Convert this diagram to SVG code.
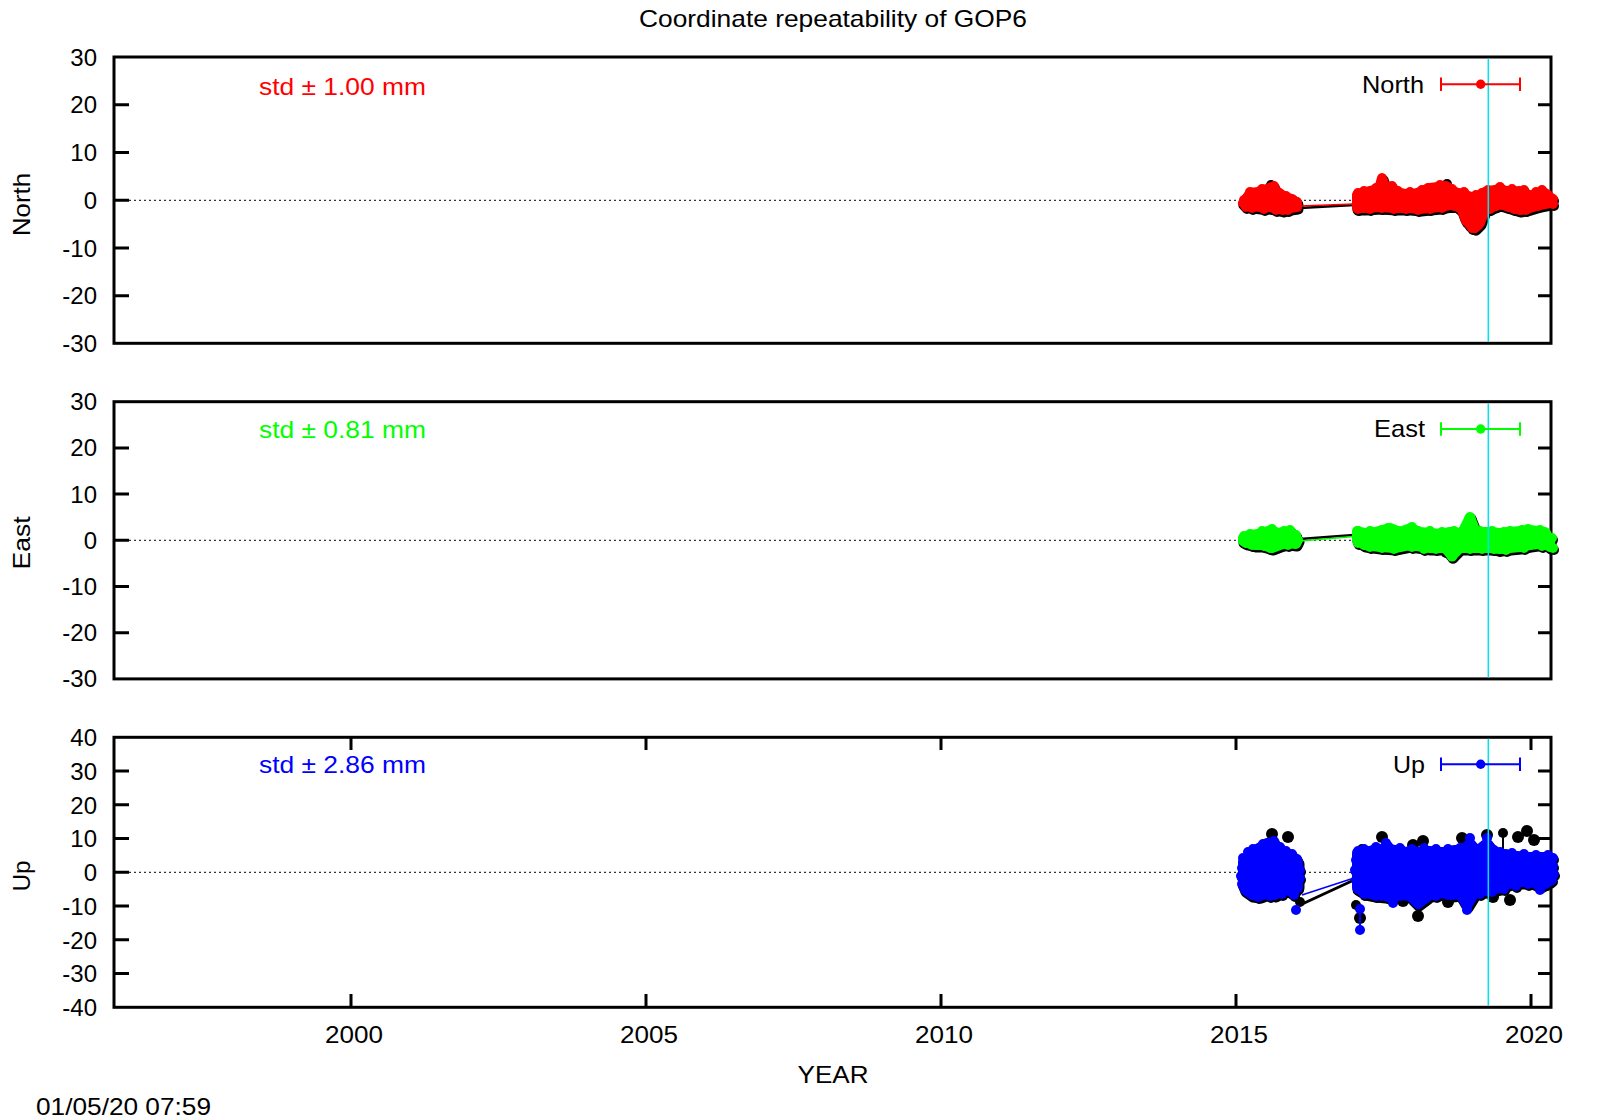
<svg xmlns="http://www.w3.org/2000/svg" xmlns:xlink="http://www.w3.org/1999/xlink" width="1600" height="1120" viewBox="0 0 1600 1120">
<style>
text { font-family: "Liberation Sans", Arial, sans-serif; font-size: 24px; fill: #000; }
.ytl { text-anchor: end; }
.xtl { text-anchor: middle; }
.frame { fill: none; stroke: #000; stroke-width: 3; }
.tick { stroke: #000; stroke-width: 3; fill: none; }
.zero { stroke: #000; stroke-width: 1; stroke-dasharray: 2 3; fill: none; }
.cyan { stroke: #00e4f0; stroke-width: 1.5; fill: none; }
.blk { fill: #000; stroke: #000; stroke-width: 11; stroke-linejoin: round; }
.cR { fill: #ff0000; stroke: #ff0000; stroke-width: 10; stroke-linejoin: round; }
.cG { fill: #00ff00; stroke: #00ff00; stroke-width: 10; stroke-linejoin: round; }
.cB { fill: #0000ff; stroke: #0000ff; stroke-width: 10; stroke-linejoin: round; }
.lnK { stroke: #000; stroke-width: 2.5; fill: none; }
.lnR { stroke: #ff0000; stroke-width: 1.5; fill: none; }
.lnG { stroke: #00ff00; stroke-width: 1.5; fill: none; }
.lnB { stroke: #0000ff; stroke-width: 1.5; fill: none; }
.legR { stroke: #ff0000; stroke-width: 2; fill: none; }
.legG { stroke: #00ff00; stroke-width: 2; fill: none; }
.legB { stroke: #0000ff; stroke-width: 2; fill: none; }
</style>
<defs>
<g id="nA">
<path d="M1243,203 L1250,193 L1258,192 L1263,190 L1267,189 L1272,187 L1278,192 L1285,197 L1292,199 L1297,203 L1297,207 L1290,208 L1283,210 L1275,208 L1268,207 L1260,207 L1252,206 L1245,205 Z"/>
<g stroke="none">
<circle cx="1244" cy="200" r="5"/><circle cx="1250" cy="192" r="5"/><circle cx="1256" cy="194" r="5"/><circle cx="1262" cy="189" r="5"/><circle cx="1268" cy="190" r="5"/><circle cx="1274" cy="186" r="5"/><circle cx="1280" cy="194" r="5"/><circle cx="1286" cy="196" r="5"/><circle cx="1292" cy="200" r="5"/><circle cx="1297" cy="202" r="5"/>
<circle cx="1246" cy="207" r="5"/><circle cx="1252" cy="208" r="5"/><circle cx="1258" cy="206" r="5"/><circle cx="1264" cy="209" r="5"/><circle cx="1270" cy="207" r="5"/><circle cx="1276" cy="210" r="5"/><circle cx="1282" cy="208" r="5"/><circle cx="1288" cy="210" r="5"/><circle cx="1294" cy="207" r="5"/>
</g>
</g>
<g id="nB">
<path d="M1357,195 L1365,193 L1370,191 L1376,190 L1379,189 L1382,178 L1386,189 L1390,187 L1395,190 L1400,193 L1410,195 L1420,192 L1430,188 L1438,187 L1446,186 L1455,192 L1465,195 L1475,198 L1485,192 L1500,189 L1510,192 L1520,191 L1530,197 L1538,193 L1545,193 L1550,197 L1550,203 L1540,205 L1530,208 L1520,210 L1510,207 L1500,204 L1490,208 L1485,210 L1480,223 L1475,228 L1470,225 L1465,218 L1462,210 L1455,204 L1440,207 L1430,208 L1420,209 L1410,208 L1395,208 L1380,207 L1365,208 L1357,208 Z"/>
<g stroke="none">
<circle cx="1358" cy="193" r="5"/><circle cx="1364" cy="191" r="5"/><circle cx="1370" cy="193" r="5"/><circle cx="1376" cy="188" r="5"/><circle cx="1392" cy="186" r="5"/><circle cx="1398" cy="191" r="5"/><circle cx="1404" cy="194" r="5"/><circle cx="1410" cy="192" r="5"/><circle cx="1416" cy="195" r="5"/><circle cx="1422" cy="190" r="5"/><circle cx="1428" cy="188" r="5"/><circle cx="1434" cy="189" r="5"/><circle cx="1440" cy="185" r="5"/><circle cx="1446" cy="187" r="5"/><circle cx="1452" cy="189" r="5"/><circle cx="1458" cy="193" r="5"/><circle cx="1464" cy="192" r="5"/><circle cx="1470" cy="197" r="5"/><circle cx="1476" cy="195" r="5"/><circle cx="1482" cy="193" r="5"/><circle cx="1488" cy="190" r="5"/><circle cx="1494" cy="191" r="5"/><circle cx="1500" cy="187" r="5"/><circle cx="1506" cy="191" r="5"/><circle cx="1512" cy="189" r="5"/><circle cx="1518" cy="192" r="5"/><circle cx="1524" cy="190" r="5"/><circle cx="1530" cy="195" r="5"/><circle cx="1536" cy="192" r="5"/><circle cx="1542" cy="190" r="5"/><circle cx="1548" cy="195" r="5"/><circle cx="1553" cy="199" r="5"/>
<circle cx="1358" cy="209" r="5"/><circle cx="1364" cy="207" r="5"/><circle cx="1370" cy="209" r="5"/><circle cx="1376" cy="206" r="5"/><circle cx="1382" cy="208" r="5"/><circle cx="1388" cy="206" r="5"/><circle cx="1394" cy="209" r="5"/><circle cx="1400" cy="207" r="5"/><circle cx="1406" cy="209" r="5"/><circle cx="1412" cy="207" r="5"/><circle cx="1418" cy="210" r="5"/><circle cx="1424" cy="208" r="5"/><circle cx="1430" cy="209" r="5"/><circle cx="1436" cy="206" r="5"/><circle cx="1442" cy="208" r="5"/><circle cx="1448" cy="205" r="5"/><circle cx="1454" cy="206" r="5"/><circle cx="1460" cy="208" r="5"/><circle cx="1466" cy="221" r="5"/><circle cx="1472" cy="228" r="5"/><circle cx="1478" cy="225" r="5"/><circle cx="1484" cy="212" r="5"/><circle cx="1490" cy="209" r="5"/><circle cx="1496" cy="206" r="5"/><circle cx="1502" cy="205" r="5"/><circle cx="1508" cy="207" r="5"/><circle cx="1514" cy="209" r="5"/><circle cx="1520" cy="208" r="5"/><circle cx="1526" cy="210" r="5"/><circle cx="1532" cy="207" r="5"/><circle cx="1538" cy="206" r="5"/><circle cx="1544" cy="204" r="5"/><circle cx="1553" cy="204" r="5"/>
</g>
</g>
<g id="eA">
<path d="M1243,538 L1250,535 L1258,534 L1265,532 L1271,530 L1278,533 L1284,532 L1290,531 L1296,537 L1298,540 L1296,544 L1288,543 L1280,545 L1272,548 L1263,545 L1255,545 L1247,543 L1243,541 Z"/>
<g stroke="none">
<circle cx="1244" cy="536" r="5"/><circle cx="1250" cy="534" r="5"/><circle cx="1256" cy="535" r="5"/><circle cx="1262" cy="531" r="5"/><circle cx="1268" cy="533" r="5"/><circle cx="1272" cy="529" r="5"/><circle cx="1278" cy="534" r="5"/><circle cx="1284" cy="531" r="5"/><circle cx="1290" cy="530" r="5"/><circle cx="1296" cy="535" r="5"/>
<circle cx="1246" cy="543" r="5"/><circle cx="1252" cy="545" r="5"/><circle cx="1258" cy="544" r="5"/><circle cx="1264" cy="546" r="5"/><circle cx="1270" cy="548" r="5"/><circle cx="1276" cy="545" r="5"/><circle cx="1282" cy="544" r="5"/><circle cx="1288" cy="545" r="5"/><circle cx="1294" cy="543" r="5"/>
</g>
</g>
<g id="eB">
<path d="M1357,531 L1365,533 L1375,532 L1390,528 L1400,532 L1411,528 L1420,532 L1430,533 L1440,534 L1450,532 L1462,533 L1470,517 L1476,532 L1490,532 L1500,533 L1510,532 L1520,531 L1530,530 L1545,532 L1550,540 L1550,547 L1545,543 L1530,545 L1520,547 L1510,548 L1500,549 L1490,548 L1475,548 L1460,548 L1452,556 L1445,548 L1430,548 L1410,545 L1395,548 L1380,547 L1365,545 L1357,540 Z"/>
<g stroke="none">
<circle cx="1358" cy="531" r="5"/><circle cx="1364" cy="533" r="5"/><circle cx="1370" cy="531" r="5"/><circle cx="1376" cy="533" r="5"/><circle cx="1382" cy="530" r="5"/><circle cx="1388" cy="528" r="5"/><circle cx="1394" cy="531" r="5"/><circle cx="1400" cy="533" r="5"/><circle cx="1406" cy="530" r="5"/><circle cx="1412" cy="527" r="5"/><circle cx="1418" cy="531" r="5"/><circle cx="1424" cy="533" r="5"/><circle cx="1430" cy="531" r="5"/><circle cx="1436" cy="534" r="5"/><circle cx="1442" cy="532" r="5"/><circle cx="1448" cy="533" r="5"/><circle cx="1454" cy="531" r="5"/><circle cx="1460" cy="534" r="5"/><circle cx="1466" cy="532" r="5"/><circle cx="1470" cy="518" r="5.5"/><circle cx="1480" cy="531" r="5"/><circle cx="1486" cy="533" r="5"/><circle cx="1492" cy="531" r="5"/><circle cx="1498" cy="534" r="5"/><circle cx="1504" cy="532" r="5"/><circle cx="1510" cy="531" r="5"/><circle cx="1516" cy="533" r="5"/><circle cx="1522" cy="530" r="5"/><circle cx="1528" cy="529" r="5"/><circle cx="1534" cy="532" r="5"/><circle cx="1540" cy="530" r="5"/><circle cx="1546" cy="533" r="5"/><circle cx="1552" cy="538" r="5"/>
<circle cx="1358" cy="543" r="5"/><circle cx="1364" cy="545" r="5"/><circle cx="1370" cy="547" r="5"/><circle cx="1376" cy="545" r="5"/><circle cx="1382" cy="548" r="5"/><circle cx="1388" cy="546" r="5"/><circle cx="1394" cy="549" r="5"/><circle cx="1400" cy="547" r="5"/><circle cx="1406" cy="545" r="5"/><circle cx="1412" cy="547" r="5"/><circle cx="1418" cy="546" r="5"/><circle cx="1424" cy="549" r="5"/><circle cx="1430" cy="547" r="5"/><circle cx="1436" cy="549" r="5"/><circle cx="1442" cy="547" r="5"/><circle cx="1452" cy="556" r="5.5"/><circle cx="1458" cy="549" r="5"/><circle cx="1464" cy="547" r="5"/><circle cx="1470" cy="549" r="5"/><circle cx="1476" cy="547" r="5"/><circle cx="1482" cy="549" r="5"/><circle cx="1488" cy="547" r="5"/><circle cx="1494" cy="549" r="5"/><circle cx="1500" cy="548" r="5"/><circle cx="1506" cy="550" r="5"/><circle cx="1512" cy="547" r="5"/><circle cx="1518" cy="546" r="5"/><circle cx="1524" cy="548" r="5"/><circle cx="1530" cy="545" r="5"/><circle cx="1536" cy="544" r="5"/><circle cx="1542" cy="546" r="5"/><circle cx="1548" cy="544" r="5"/><circle cx="1553" cy="548" r="5"/>
</g>
</g>
<g id="uA">
<path d="M1243,862 L1248,856 L1255,850 L1262,846 L1267,843 L1273,842 L1280,850 L1286,853 L1292,856 L1298,862 L1298,868 L1298,886 L1293,893 L1288,890 L1280,892 L1275,895 L1268,893 L1260,896 L1252,895 L1245,890 L1243,885 Z"/>
<g stroke="none">
<circle cx="1243" cy="858" r="5"/><circle cx="1248" cy="852" r="5"/><circle cx="1253" cy="849" r="5"/><circle cx="1258" cy="850" r="5"/><circle cx="1263" cy="844" r="5"/><circle cx="1268" cy="846" r="5"/><circle cx="1274" cy="841" r="5"/><circle cx="1280" cy="847" r="5"/><circle cx="1286" cy="851" r="5"/><circle cx="1292" cy="854" r="5"/><circle cx="1297" cy="859" r="5"/>
<circle cx="1242" cy="868" r="5"/><circle cx="1241" cy="876" r="5"/><circle cx="1242" cy="884" r="5"/><circle cx="1300" cy="870" r="5"/><circle cx="1300" cy="878" r="5"/><circle cx="1298" cy="888" r="5"/>
<circle cx="1246" cy="889" r="5"/><circle cx="1252" cy="894" r="5"/><circle cx="1258" cy="897" r="5"/><circle cx="1264" cy="893" r="5"/><circle cx="1270" cy="896" r="5"/><circle cx="1276" cy="892" r="5"/><circle cx="1282" cy="894" r="5"/><circle cx="1288" cy="889" r="5"/><circle cx="1294" cy="895" r="5"/>
</g>
</g>
<g id="uB">
<path d="M1357,853 L1365,852 L1373,850 L1381,849 L1387,848 L1395,850 L1405,852 L1412,851 L1420,853 L1428,851 L1435,852 L1445,852 L1455,850 L1462,851 L1470,843 L1477,851 L1487,843 L1494,852 L1500,853 L1510,856 L1520,857 L1535,857 L1550,857 L1550,881 L1540,886 L1532,882 L1520,882 L1510,883 L1500,888 L1490,890 L1475,893 L1467,906 L1460,894 L1452,895 L1445,893 L1430,895 L1418,904 L1410,896 L1400,895 L1393,898 L1385,896 L1375,895 L1365,893 L1357,888 Z"/>
<g stroke="none">
<circle cx="1358" cy="851" r="5"/><circle cx="1364" cy="849" r="5"/><circle cx="1370" cy="852" r="5"/><circle cx="1376" cy="847" r="5"/><circle cx="1382" cy="850" r="5"/><circle cx="1388" cy="846" r="5"/><circle cx="1394" cy="850" r="5"/><circle cx="1400" cy="848" r="5"/><circle cx="1406" cy="852" r="5"/><circle cx="1412" cy="849" r="5"/><circle cx="1418" cy="852" r="5"/><circle cx="1424" cy="848" r="5"/><circle cx="1430" cy="851" r="5"/><circle cx="1436" cy="849" r="5"/><circle cx="1442" cy="852" r="5"/><circle cx="1448" cy="849" r="5"/><circle cx="1454" cy="851" r="5"/><circle cx="1460" cy="848" r="5"/><circle cx="1466" cy="850" r="5"/><circle cx="1476" cy="849" r="5"/><circle cx="1482" cy="851" r="5"/><circle cx="1494" cy="850" r="5"/><circle cx="1500" cy="852" r="5"/><circle cx="1506" cy="854" r="5"/><circle cx="1512" cy="853" r="5"/><circle cx="1518" cy="856" r="5"/><circle cx="1524" cy="854" r="5"/><circle cx="1530" cy="857" r="5"/><circle cx="1536" cy="855" r="5"/><circle cx="1542" cy="857" r="5"/><circle cx="1548" cy="855" r="5"/><circle cx="1553" cy="858" r="5"/>
<circle cx="1356" cy="860" r="5"/><circle cx="1355" cy="870" r="5"/><circle cx="1356" cy="880" r="5"/><circle cx="1553" cy="866" r="5"/><circle cx="1554" cy="874" r="5"/>
<circle cx="1358" cy="889" r="5"/><circle cx="1364" cy="894" r="5"/><circle cx="1370" cy="892" r="5"/><circle cx="1376" cy="896" r="5"/><circle cx="1382" cy="893" r="5"/><circle cx="1388" cy="897" r="5"/><circle cx="1394" cy="894" r="5"/><circle cx="1400" cy="896" r="5"/><circle cx="1406" cy="893" r="5"/><circle cx="1412" cy="897" r="5"/><circle cx="1424" cy="895" r="5"/><circle cx="1430" cy="893" r="5"/><circle cx="1436" cy="896" r="5"/><circle cx="1442" cy="892" r="5"/><circle cx="1448" cy="895" r="5"/><circle cx="1454" cy="893" r="5"/><circle cx="1460" cy="896" r="5"/><circle cx="1474" cy="892" r="5"/><circle cx="1480" cy="894" r="5"/><circle cx="1486" cy="890" r="5"/><circle cx="1492" cy="892" r="5"/><circle cx="1498" cy="887" r="5"/><circle cx="1504" cy="889" r="5"/><circle cx="1510" cy="884" r="5"/><circle cx="1516" cy="886" r="5"/><circle cx="1522" cy="882" r="5"/><circle cx="1528" cy="884" r="5"/><circle cx="1534" cy="881" r="5"/><circle cx="1546" cy="884" r="5"/><circle cx="1552" cy="880" r="5"/>
</g>
</g>
</defs>

<text x="833" y="27" text-anchor="middle" font-size="23" textLength="388" lengthAdjust="spacingAndGlyphs">Coordinate repeatability of GOP6</text>

<!-- North panel -->
<g id="panel-north">
<rect class="frame" x="114" y="57" width="1437" height="286.3"/>
<path class="tick" d="M114,104.7 H129 M114,152.4 H129 M114,200.3 H129 M114,248 H129 M114,295.7 H129 M1538,104.7 H1551 M1538,152.4 H1551 M1538,200.3 H1551 M1538,248 H1551 M1538,295.7 H1551"/>
<text class="ytl" x="97" y="65.5">30</text>
<text class="ytl" x="97" y="113.2">20</text>
<text class="ytl" x="97" y="160.9">10</text>
<text class="ytl" x="97" y="208.8">0</text>
<text class="ytl" x="97" y="256.5">-10</text>
<text class="ytl" x="97" y="304.2">-20</text>
<text class="ytl" x="97" y="351.8">-30</text>
<text transform="translate(30,204.5) rotate(-90)" text-anchor="middle" textLength="63" lengthAdjust="spacingAndGlyphs">North</text>
<text x="259" y="95" style="fill:#ff0000" textLength="167" lengthAdjust="spacingAndGlyphs">std ± 1.00 mm</text>
<path class="zero" d="M129,200.3 H1538"/>
</g>

<!-- East panel -->
<g id="panel-east">
<rect class="frame" x="114" y="401.7" width="1437" height="277.2"/>
<path class="tick" d="M114,447.9 H129 M114,494.1 H129 M114,540.3 H129 M114,586.5 H129 M114,632.7 H129 M1538,447.9 H1551 M1538,494.1 H1551 M1538,540.3 H1551 M1538,586.5 H1551 M1538,632.7 H1551"/>
<text class="ytl" x="97" y="410.2">30</text>
<text class="ytl" x="97" y="456.4">20</text>
<text class="ytl" x="97" y="502.6">10</text>
<text class="ytl" x="97" y="548.8">0</text>
<text class="ytl" x="97" y="595">-10</text>
<text class="ytl" x="97" y="641.2">-20</text>
<text class="ytl" x="97" y="687.4">-30</text>
<text transform="translate(30,543) rotate(-90)" text-anchor="middle" textLength="53" lengthAdjust="spacingAndGlyphs">East</text>
<text x="259" y="437.7" style="fill:#00ff00" textLength="167" lengthAdjust="spacingAndGlyphs">std ± 0.81 mm</text>
<path class="zero" d="M129,540.3 H1538"/>
</g>

<!-- Up panel -->
<g id="panel-up">
<rect class="frame" x="114" y="737.3" width="1437" height="270"/>
<path class="tick" d="M114,771.05 H129 M114,804.8 H129 M114,838.55 H129 M114,872.3 H129 M114,906.05 H129 M114,939.8 H129 M114,973.55 H129 M1538,771.05 H1551 M1538,804.8 H1551 M1538,838.55 H1551 M1538,872.3 H1551 M1538,906.05 H1551 M1538,939.8 H1551 M1538,973.55 H1551"/>
<path class="tick" d="M351,737.3 V750 M646,737.3 V750 M941,737.3 V750 M1236,737.3 V750 M1531,737.3 V750 M351,1007.3 V994 M646,1007.3 V994 M941,1007.3 V994 M1236,1007.3 V994 M1531,1007.3 V994"/>
<text class="ytl" x="97" y="746">40</text>
<text class="ytl" x="97" y="779.7">30</text>
<text class="ytl" x="97" y="813.5">20</text>
<text class="ytl" x="97" y="847.2">10</text>
<text class="ytl" x="97" y="881">0</text>
<text class="ytl" x="97" y="914.7">-10</text>
<text class="ytl" x="97" y="948.5">-20</text>
<text class="ytl" x="97" y="982.2">-30</text>
<text class="ytl" x="97" y="1016">-40</text>
<text transform="translate(30,876) rotate(-90)" text-anchor="middle" textLength="31" lengthAdjust="spacingAndGlyphs">Up</text>
<text x="259" y="773.3" style="fill:#0000ff" textLength="167" lengthAdjust="spacingAndGlyphs">std ± 2.86 mm</text>
<path class="zero" d="M129,872.3 H1538"/>
<text class="xtl" x="354" y="1043" textLength="58" lengthAdjust="spacingAndGlyphs">2000</text>
<text class="xtl" x="649" y="1043" textLength="58" lengthAdjust="spacingAndGlyphs">2005</text>
<text class="xtl" x="944" y="1043" textLength="58" lengthAdjust="spacingAndGlyphs">2010</text>
<text class="xtl" x="1239" y="1043" textLength="58" lengthAdjust="spacingAndGlyphs">2015</text>
<text class="xtl" x="1534" y="1043" textLength="58" lengthAdjust="spacingAndGlyphs">2020</text>
</g>

<text x="833" y="1083" text-anchor="middle" textLength="71" lengthAdjust="spacingAndGlyphs">YEAR</text>
<text x="36" y="1115" textLength="175" lengthAdjust="spacingAndGlyphs">01/05/20 07:59</text>

<!-- data series (connectors) -->
<g id="connectors">
<!-- North -->
<path class="lnK" d="M1300,208 L1354,205"/>
<use xlink:href="#nA" href="#nA" class="blk" transform="translate(1,2)"/>
<use xlink:href="#nB" href="#nB" class="blk" transform="translate(1,2)"/>
<circle cx="1271" cy="185" r="5" fill="#000"/>
<circle cx="1447" cy="184" r="5" fill="#000"/>
<path class="lnR" d="M1300,206 L1354,204"/>
<use xlink:href="#nA" href="#nA" class="cR"/>
<use xlink:href="#nB" href="#nB" class="cR"/>

<!-- East -->
<path class="lnK" d="M1300,539 L1354,535"/>
<use xlink:href="#eA" href="#eA" class="blk" transform="translate(1,2)"/>
<use xlink:href="#eB" href="#eB" class="blk" transform="translate(1,2)"/>
<circle cx="1500" cy="552" r="5" fill="#000"/>
<circle cx="1446" cy="553" r="5" fill="#000"/>
<path class="lnG" d="M1300,541 L1354,536.5"/>
<use xlink:href="#eA" href="#eA" class="cG"/>
<use xlink:href="#eB" href="#eB" class="cG"/>

<!-- Up -->
<path class="lnK" d="M1300,905 L1354,880" style="stroke-width:3"/>
<use xlink:href="#uA" href="#uA" class="blk" transform="translate(1,2)"/>
<use xlink:href="#uB" href="#uB" class="blk" transform="translate(1,2)"/>
<g fill="#000">
<circle cx="1272" cy="834" r="6"/>
<circle cx="1288" cy="837" r="6"/>
<circle cx="1300" cy="902" r="5"/>
<circle cx="1356" cy="905" r="5"/>
<circle cx="1360" cy="918" r="6"/>
<circle cx="1362" cy="849" r="5"/>
<circle cx="1382" cy="837" r="6"/>
<circle cx="1413" cy="845" r="6"/>
<circle cx="1423" cy="841" r="6"/>
<circle cx="1462" cy="838" r="6"/>
<circle cx="1487" cy="835" r="6"/>
<circle cx="1503" cy="833" r="5"/>
<circle cx="1518" cy="837" r="6"/>
<circle cx="1527" cy="831" r="6"/>
<circle cx="1534" cy="840" r="6"/>
<circle cx="1403" cy="901" r="6"/>
<circle cx="1418" cy="916" r="6"/>
<circle cx="1448" cy="902" r="6"/>
<circle cx="1493" cy="897" r="6"/>
<circle cx="1510" cy="900" r="6"/>
<circle cx="1533" cy="884" r="6"/>
</g>
<path class="lnK" d="M1503,833 V852" style="stroke-width:2"/>
<path class="lnB" d="M1302,895 L1354,878"/>
<use xlink:href="#uA" href="#uA" class="cB"/>
<use xlink:href="#uB" href="#uB" class="cB"/>
<path class="lnB" d="M1360,906 V930" style="stroke-width:2"/>
<g fill="#0000ff">
<circle cx="1296" cy="910" r="5"/>
<circle cx="1360" cy="909" r="5"/>
<circle cx="1360" cy="930" r="5"/>
<circle cx="1393" cy="903" r="5"/>
<circle cx="1467" cy="910" r="5"/>
<circle cx="1540" cy="890" r="5"/>
<circle cx="1470" cy="838" r="5"/>
<circle cx="1487" cy="838" r="5"/>
<circle cx="1386" cy="843" r="5"/>
</g>
</g>

<!-- cyan marker line -->
<path class="cyan" d="M1488.3,58.5 V341.8 M1488.3,403.2 V677.4 M1488.3,738.8 V1005.8"/>

<!-- legends -->
<g id="legend-north">
<text x="1424" y="93" text-anchor="end" textLength="62" lengthAdjust="spacingAndGlyphs">North</text>
<path class="legR" d="M1441,84.3 H1520 M1441,77.5 V91 M1520,77.5 V91"/>
<circle cx="1480.7" cy="84.3" r="4.7" fill="#ff0000"/>
</g>
<g id="legend-east">
<text x="1425" y="437.3" text-anchor="end" textLength="51" lengthAdjust="spacingAndGlyphs">East</text>
<path class="legG" d="M1441,429 H1520 M1441,422.2 V435.8 M1520,422.2 V435.8"/>
<circle cx="1480.7" cy="429" r="4.7" fill="#00ff00"/>
</g>
<g id="legend-up">
<text x="1425" y="772.7" text-anchor="end" textLength="32" lengthAdjust="spacingAndGlyphs">Up</text>
<path class="legB" d="M1441,764.3 H1520 M1441,757.5 V771.1 M1520,757.5 V771.1"/>
<circle cx="1480.7" cy="764.3" r="4.7" fill="#0000ff"/>
</g>
</svg>
